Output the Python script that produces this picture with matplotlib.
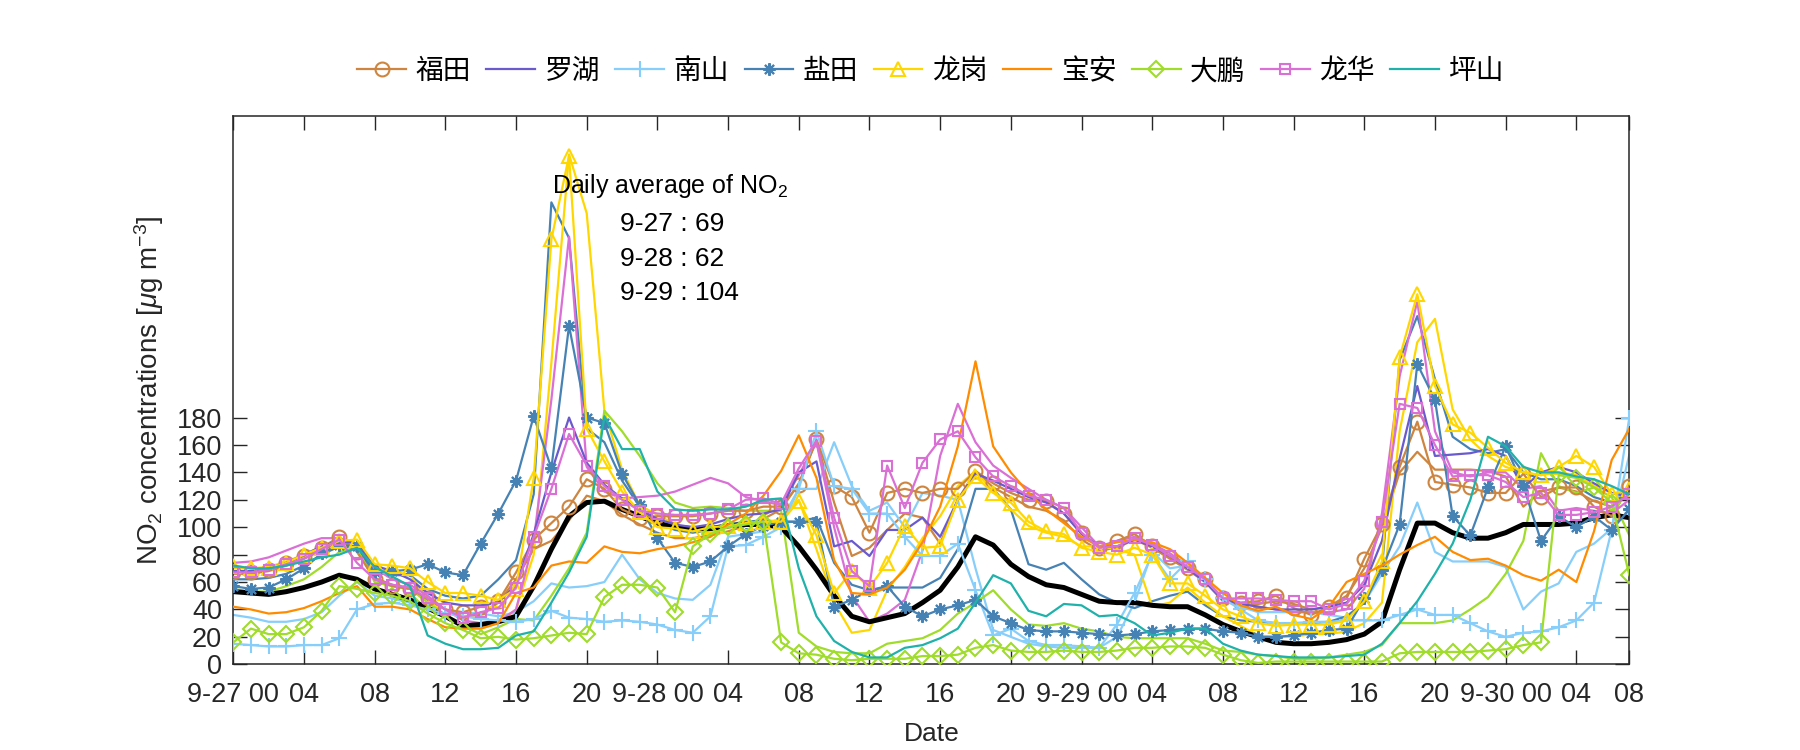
import numpy as np
import matplotlib
matplotlib.use("Agg")
import matplotlib.pyplot as plt

plt.rcParams['font.family'] = ['Liberation Sans', 'Noto Sans CJK SC', 'DejaVu Sans']
plt.rcParams['mathtext.fontset'] = 'custom'
plt.rcParams['mathtext.rm'] = 'Liberation Sans'
plt.rcParams['mathtext.it'] = 'Liberation Sans:italic'

# hourly NO2 from 9-27 00 to 9-30 07 (80 hours)
hours = list(range(80))

average = [53, 52, 51, 53, 56, 60, 65, 62, 55, 51,
           47, 41, 35, 28, 29, 31, 35, 57, 84, 108,
           118, 119, 113, 108, 103, 100, 99, 99, 101, 102,
           102, 100, 86, 69, 50, 35, 31, 34, 37, 45,
           54, 71, 93, 87, 73, 64, 58, 56, 51, 46,
           45, 45, 43, 42, 42, 36, 29, 24, 20, 16,
           15, 15, 16, 18, 22, 31, 69, 103, 103, 96,
           92, 92, 96, 102, 102, 102, 103, 107, 109, 107]

futian = [67, 67, 69, 74, 79, 85, 93, 82, 62, 57,
          55, 48, 40, 38, 42, 46, 67, 91, 103, 115,
          135, 128, 113, 107, 108, 108, 108, 110, 112, 112,
          115, 115, 131, 164, 130, 122, 96, 125, 128, 125,
          128, 128, 141, 132, 125, 120, 119, 110, 96, 85,
          90, 95, 86, 78, 70, 62, 48, 45, 46, 50,
          41, 36, 42, 48, 77, 102, 144, 177, 133, 131,
          129, 125, 125, 139, 122, 129, 129, 115, 108, 130]

futian_2 = [66, 66, 68, 72, 77, 83, 90, 84, 63, 58,
            55, 47, 40, 35, 36, 45, 62, 84, 90, 105,
            123, 119, 109, 102, 96, 92, 92, 94, 97, 101,
            106, 113, 132, 163, 118, 79, 85, 98, 110, 107,
            88, 120, 141, 129, 122, 115, 112, 105, 91, 83,
            85, 91, 85, 77, 69, 60, 46, 43, 44, 46,
            44, 40, 42, 50, 70, 100, 140, 155, 142, 142,
            142, 141, 137, 115, 126, 129, 126, 119, 115, 131]

luohu = [68, 68, 70, 74, 80, 86, 90, 88, 72, 68,
         62, 52, 45, 43, 43, 45, 58, 95, 140, 180,
         147, 131, 121, 113, 106, 102, 100, 102, 106, 109,
         110, 113, 140, 148, 86, 90, 79, 98, 98, 107,
         93, 120, 139, 134, 128, 122, 118, 110, 95, 86,
         86, 91, 86, 79, 70, 60, 47, 44, 42, 40,
         40, 40, 42, 45, 58, 90, 150, 203, 152, 153,
         154, 157, 152, 129, 140, 144, 140, 132, 125, 122]

nanshan = [15, 14, 13, 13, 14, 14, 19, 40, 44, 45,
           43, 40, 37, 35, 33, 32, 31, 33, 39, 34,
           33, 31, 32, 31, 29, 25, 23, 35, 86, 87,
           93, 100, 128, 170, 130, 128, 110, 110, 93, 79,
           79, 88, 54, 21, 26, 17, 14, 14, 13, 12,
           29, 52, 80, 62, 75, 62, 48, 40, 32, 30,
           30, 31, 31, 32, 32, 32, 36, 40, 36, 36,
           30, 24, 20, 23, 24, 27, 32, 45, 98, 180]

nanshan_2 = [36, 34, 31, 31, 33, 38, 50, 60, 50, 48,
             45, 40, 37, 38, 37, 35, 38, 46, 59, 56,
             57, 60, 80, 62, 52, 48, 47, 58, 93, 95,
             97, 105, 128, 128, 162, 130, 112, 118, 100, 125,
             123, 120, 70, 25, 20, 15, 13, 12, 12, 12,
             20, 45, 82, 70, 72, 60, 48, 42, 38, 38,
             38, 38, 36, 34, 45, 66, 86, 118, 82, 75,
             75, 75, 71, 40, 53, 59, 82, 88, 99, 153]

yantian = [57, 55, 56, 62, 70, 81, 87, 86, 67, 68,
           69, 73, 67, 65, 88, 110, 134, 181, 143, 247,
           180, 176, 139, 116, 92, 74, 71, 75, 86, 95,
           101, 104, 104, 104, 42, 47, 54, 57, 42, 35,
           40, 43, 47, 35, 30, 25, 24, 24, 23, 22,
           21, 22, 24, 25, 26, 26, 24, 23, 20, 20,
           21, 23, 25, 26, 48, 69, 102, 219, 193, 108,
           94, 129, 159, 130, 90, 108, 100, 108, 98, 113]

yantian_2 = [62, 62, 63, 66, 72, 80, 86, 85, 67, 65,
             65, 55, 50, 48, 50, 62, 76, 124, 337, 311,
             172, 162, 134, 115, 103, 98, 96, 98, 102, 104,
             105, 104, 104, 107, 74, 58, 54, 56, 56, 56,
             63, 84, 128, 128, 113, 73, 69, 74, 62, 51,
             45, 41, 46, 50, 53, 43, 35, 32, 31, 30,
             30, 30, 31, 35, 45, 70, 222, 254, 208, 166,
             157, 154, 157, 140, 135, 135, 130, 122, 118, 125]

longgang = [72, 70, 70, 74, 80, 85, 90, 91, 73, 72,
            70, 60, 52, 52, 50, 47, 55, 136, 310, 371,
            172, 148, 126, 111, 100, 99, 97, 100, 101, 103,
            104, 104, 119, 94, 52, 68, 56, 74, 101, 85,
            86, 120, 137, 125, 118, 104, 97, 95, 85, 82,
            80, 85, 80, 59, 59, 50, 40, 35, 30, 28,
            29, 29, 29, 32, 46, 75, 224, 270, 203, 175,
            169, 158, 147, 140, 138, 144, 152, 144, 124, 128]

longgang_2 = [70, 70, 71, 75, 80, 85, 90, 88, 70, 68,
              65, 48, 35, 28, 26, 30, 40, 80, 220, 372,
              329, 185, 142, 116, 109, 102, 98, 96, 100, 101,
              103, 106, 120, 84, 45, 23, 25, 54, 71, 92,
              108, 130, 141, 126, 113, 101, 96, 93, 86, 86,
              84, 80, 42, 45, 56, 45, 35, 28, 21, 20,
              20, 22, 22, 24, 30, 45, 170, 235, 252, 186,
              164, 152, 144, 140, 138, 140, 138, 130, 125, 122]

baoan = [42, 40, 37, 38, 41, 46, 52, 57, 42, 42,
         40, 33, 27, 26, 26, 30, 52, 56, 72, 75,
         74, 86, 82, 81, 84, 86, 89, 93, 102, 110,
         123, 141, 167, 136, 76, 52, 51, 56, 69, 89,
         115, 159, 221, 159, 140, 125, 113, 103, 93, 86,
         89, 91, 89, 84, 74, 63, 52, 43, 39, 42,
         36, 33, 42, 60, 66, 72, 80, 87, 93, 82,
         76, 77, 72, 65, 61, 69, 60, 97, 149, 172]

dapeng = [16, 26, 22, 22, 27, 39, 57, 55, 52, 50,
          46, 37, 30, 25, 19, 20, 18, 19, 21, 23,
          22, 49, 58, 58, 56, 38, 86, 95, 100, 102,
          104, 16, 8, 7, 4, 3, 4, 4, 4, 6,
          6, 7, 12, 14, 10, 9, 9, 10, 9, 9,
          10, 12, 12, 13, 13, 12, 7, 3, 1, 2,
          2, 2, 2, 2, 2, 2, 8, 9, 9, 9,
          9, 10, 11, 14, 16, 138, 136, 129, 118, 65]

dapeng_2 = [55, 53, 53, 57, 62, 71, 82, 85, 60, 57,
            55, 45, 36, 28, 22, 27, 33, 32, 50, 70,
            96, 185, 170, 152, 132, 118, 114, 115, 114, 112,
            112, 112, 23, 13, 9, 8, 8, 15, 17, 19,
            25, 37, 45, 54, 40, 29, 28, 30, 26, 24,
            20, 19, 19, 19, 19, 15, 10, 9, 7, 6,
            4, 4, 5, 7, 9, 14, 30, 30, 30, 32,
            40, 49, 66, 90, 154, 130, 125, 129, 122, 94]

longhua = [67, 67, 69, 73, 77, 84, 91, 74, 62, 58,
           56, 48, 40, 34, 38, 41, 56, 93, 128, 168,
           145, 130, 120, 112, 110, 109, 109, 110, 113, 120,
           121, 117, 143, 163, 107, 68, 57, 145, 114, 147,
           164, 170, 151, 137, 130, 123, 120, 114, 96, 85,
           86, 92, 87, 79, 71, 62, 48, 48, 48, 47,
           46, 46, 40, 44, 61, 104, 190, 187, 160, 137,
           138, 138, 133, 122, 125, 109, 109, 111, 115, 124]

longhua_2 = [74, 75, 78, 83, 88, 92, 92, 88, 70, 62,
             58, 50, 40, 32, 30, 31, 40, 90, 193, 312,
             144, 126, 121, 122, 123, 126, 131, 136, 132, 122,
             119, 116, 138, 162, 100, 50, 31, 37, 47, 83,
             152, 190, 162, 145, 136, 128, 120, 114, 100, 86,
             90, 93, 88, 81, 72, 62, 48, 45, 42, 40,
             38, 38, 38, 40, 55, 110, 210, 265, 170, 140,
             137, 140, 140, 128, 130, 112, 114, 112, 110, 120]

pingshan = [72, 70, 70, 72, 75, 78, 80, 85, 71, 64,
            57, 21, 15, 11, 11, 12, 21, 24, 45, 67,
            93, 181, 157, 157, 126, 113, 112, 113, 113, 115,
            120, 121, 70, 35, 17, 9, 5, 5, 12, 14,
            19, 26, 45, 65, 59, 39, 35, 44, 43, 35,
            36, 30, 21, 23, 26, 26, 15, 10, 7, 6,
            5, 5, 5, 6, 7, 15, 30, 46, 66, 88,
            120, 166, 159, 144, 140, 140, 137, 135, 130, 124]

tick_pos = [0, 4, 8, 12, 16, 20, 24, 28, 32, 36, 40, 44, 48, 52, 56, 60, 64, 68, 72, 76, 79]
tick_labels = ['9-27 00', '04', '08', '12', '16', '20', '9-28 00', '04', '08', '12', '16', '20',
               '9-29 00', '04', '08', '12', '16', '20', '9-30 00', '04', '08']

daily_avg = ['9-27 : 69', '9-28 : 62', '9-29 : 104']

# (name, series with marker, extra station, colour, marker)
districts = [
    ('福田', futian, futian_2, 'peru', 'o'),
    ('罗湖', luohu, None, 'slateblue', None),
    ('南山', nanshan, nanshan_2, 'lightskyblue', '+'),
    ('盐田', yantian, yantian_2, 'steelblue', (8, 2, 0)),
    ('龙岗', longgang, longgang_2, 'gold', '^'),
    ('宝安', baoan, None, 'darkorange', None),
    ('大鹏', dapeng, dapeng_2, '#A0DC2A', 'D'),
    ('龙华', longhua, longhua_2, 'orchid', 's'),
    ('坪山', pingshan, None, 'lightseagreen', None),
]
msizes = {'o': 10, '+': 11, '^': 10, 'D': 8, 's': 6.5}

fig = plt.figure(figsize=(18, 7.5), dpi=100)
ax = fig.add_axes([0.1296, 0.1143, 0.7756, 0.7310])

for name, s, s2, c, m in districts:
    if s2 is not None:
        ax.plot(hours, s2, color=c, lw=1.6, zorder=2)

ax.plot(hours, average, color='black', lw=3.6, zorder=2.5)

handles = []
for name, s, s2, c, m in districts:
    if m is None:
        h, = ax.plot(hours, s, color=c, lw=1.6, label=name, zorder=3)
    else:
        ms = msizes.get(m, 9) if isinstance(m, str) else 9
        h, = ax.plot(hours, s, color=c, lw=1.6, marker=m, ms=ms, mfc='none',
                     mec=c, mew=1.5, label=name, zorder=3)
    handles.append(h)

ax.set_xlim(0, 79)
ax.set_ylim(0, 400)
ax.set_yticks(range(0, 181, 20))
ax.set_xticks(tick_pos)
ax.set_xticklabels(tick_labels)
ax.tick_params(direction='in', top=True, right=True, length=10, width=1,
               labelsize=19.5, colors='#262626')
ax.tick_params(axis='x', pad=13)
ax.tick_params(axis='y', pad=8)
for sp in ax.spines.values():
    sp.set_color('#262626')
    sp.set_linewidth(1.1)

ax.set_xlabel('Date', fontsize=19, color='#262626', labelpad=10)
ax.set_ylabel(r'NO$_2$ concentrations [$\mu$g m$^{-3}$]', fontsize=20, color='#262626', labelpad=8)

ax.text(18.05, 349, r'Daily average of NO$_2$', fontsize=18, va='center', ha='left')
for i, t in enumerate(daily_avg):
    ax.text(21.9, 321 - i * 25, t, fontsize=19, va='center', ha='left')

fig.legend(handles=handles, loc='center', bbox_to_anchor=(0.517, 0.904), ncol=9,
           frameon=False, fontsize=20, handlelength=1.75, handletextpad=0.35,
           columnspacing=0.55)

fig.savefig('out.png', dpi=100)
